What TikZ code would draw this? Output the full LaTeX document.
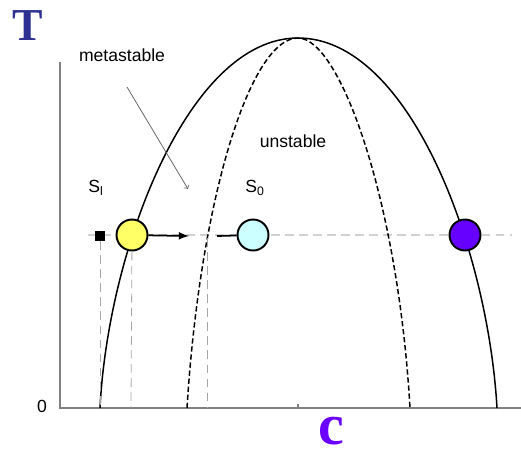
\documentclass[tikz,border=0pt]{standalone}
\usepackage{fontspec}
\setmainfont{Liberation Sans}
\newfontfamily\axisfont{Liberation Serif}
\definecolor{axisblue}{HTML}{2E3192}
\definecolor{axispurple}{HTML}{6A00FF}
\definecolor{richpurple}{HTML}{6600FF}
\definecolor{palecyan}{HTML}{CCFFFF}
\definecolor{paleyellow}{HTML}{FFFF66}

\begin{document}
\begin{tikzpicture}[x=0.02cm,y=-0.02cm,
		phase/.style={circle,draw,line width=1.1pt,minimum size=0.62cm,inner sep=0pt},
		guide/.style={draw=black!35,dash pattern=on 5pt off 3pt,line width=0.45pt},
		tieline/.style={draw=black!18,dash pattern=on 5pt off 3pt,line width=1pt},
		curve/.style={line width=0.85pt},
		label/.style={font=\fontsize{10}{12}\selectfont,inner sep=0pt}]
		\useasboundingbox (0, 0) rectangle (521, 451);

		% axes
		\coordinate (O) at (60, 408);
		\coordinate (Ttop) at (60, 62);
		\coordinate (Cend) at (521, 408);
		\coordinate (tick) at (298, 404);
		\draw[black!50, line width=1.1pt] (Ttop) -- (O) -- (Cend);
		\draw[black!50, line width=0.6pt] (tick) -- (298, 408);

		\node[font=\axisfont\bfseries\fontsize{26}{26}\selectfont, text=axisblue, anchor=base, inner sep=0pt] (T) at (28, 40) {T};
		\node[font=\axisfont\bfseries\fontsize{33}{33}\selectfont, text=axispurple, anchor=base, inner sep=0pt] (c) at (331, 444) {c};
		\node[label] (zero) at (42, 406) {0};

		% tie line and guides
		\coordinate (L1) at (88, 235);
		\coordinate (L2) at (512, 235);
		\draw[tieline] (L1) -- (L2);

		\coordinate (G1) at (100, 408);
		\coordinate (G2) at (131, 408);
		\coordinate (G3) at (207, 408);
		\coordinate (H3) at (207, 238);

		% binodal and spinodal
		\coordinate (top) at (298, 38);
		\coordinate (bl) at (100, 408);
		\coordinate (br) at (497, 408);
		\coordinate (sl) at (187, 408);
		\coordinate (sr) at (410, 408);
		\draw[curve] (bl) .. controls (108, 250) and (188, 38) .. (top)
			.. controls (410, 38) and (488, 250) .. (br);
		\draw[curve, dash pattern=on 3pt off 1.6pt] (sl) .. controls (200, 200) and (250, 38) .. (top)
			.. controls (340, 38) and (398, 200) .. (sr);

		% states
		\node[fill=black, inner sep=0pt, minimum size=5.5pt] (sq) at (100, 236) {};
		\node[phase, fill=paleyellow] (A) at (132, 235) {};
		\node[phase, fill=palecyan] (B) at (253, 235) {};
		\node[phase, fill=richpurple] (C) at (465, 235) {};

		\draw[guide] (sq) -- (G1);
		\draw[guide] (A) -- (G2);
		\draw[guide] (H3) -- (G3);

		\coordinate (Aend) at (189, 236);
		\coordinate (Bstart) at (217, 236);
		\draw[-latex, line width=1pt] (A) -- (Aend);
		\draw[line width=1pt] (Bstart) -- (B);

		\node[label] (Sl) at (96, 188) {S\textsubscript{l}};
		\node[label] (S0) at (255, 188) {S\textsubscript{0}};
		\node[label] (meta) at (122, 55) {metastable};
		\node[label] (unst) at (293, 141) {unstable};

		\coordinate (M1) at (127, 87);
		\coordinate (M2) at (188, 189);
		\draw[->, black!60, line width=0.45pt] (M1) -- (M2);
	\end{tikzpicture}
\end{document}
